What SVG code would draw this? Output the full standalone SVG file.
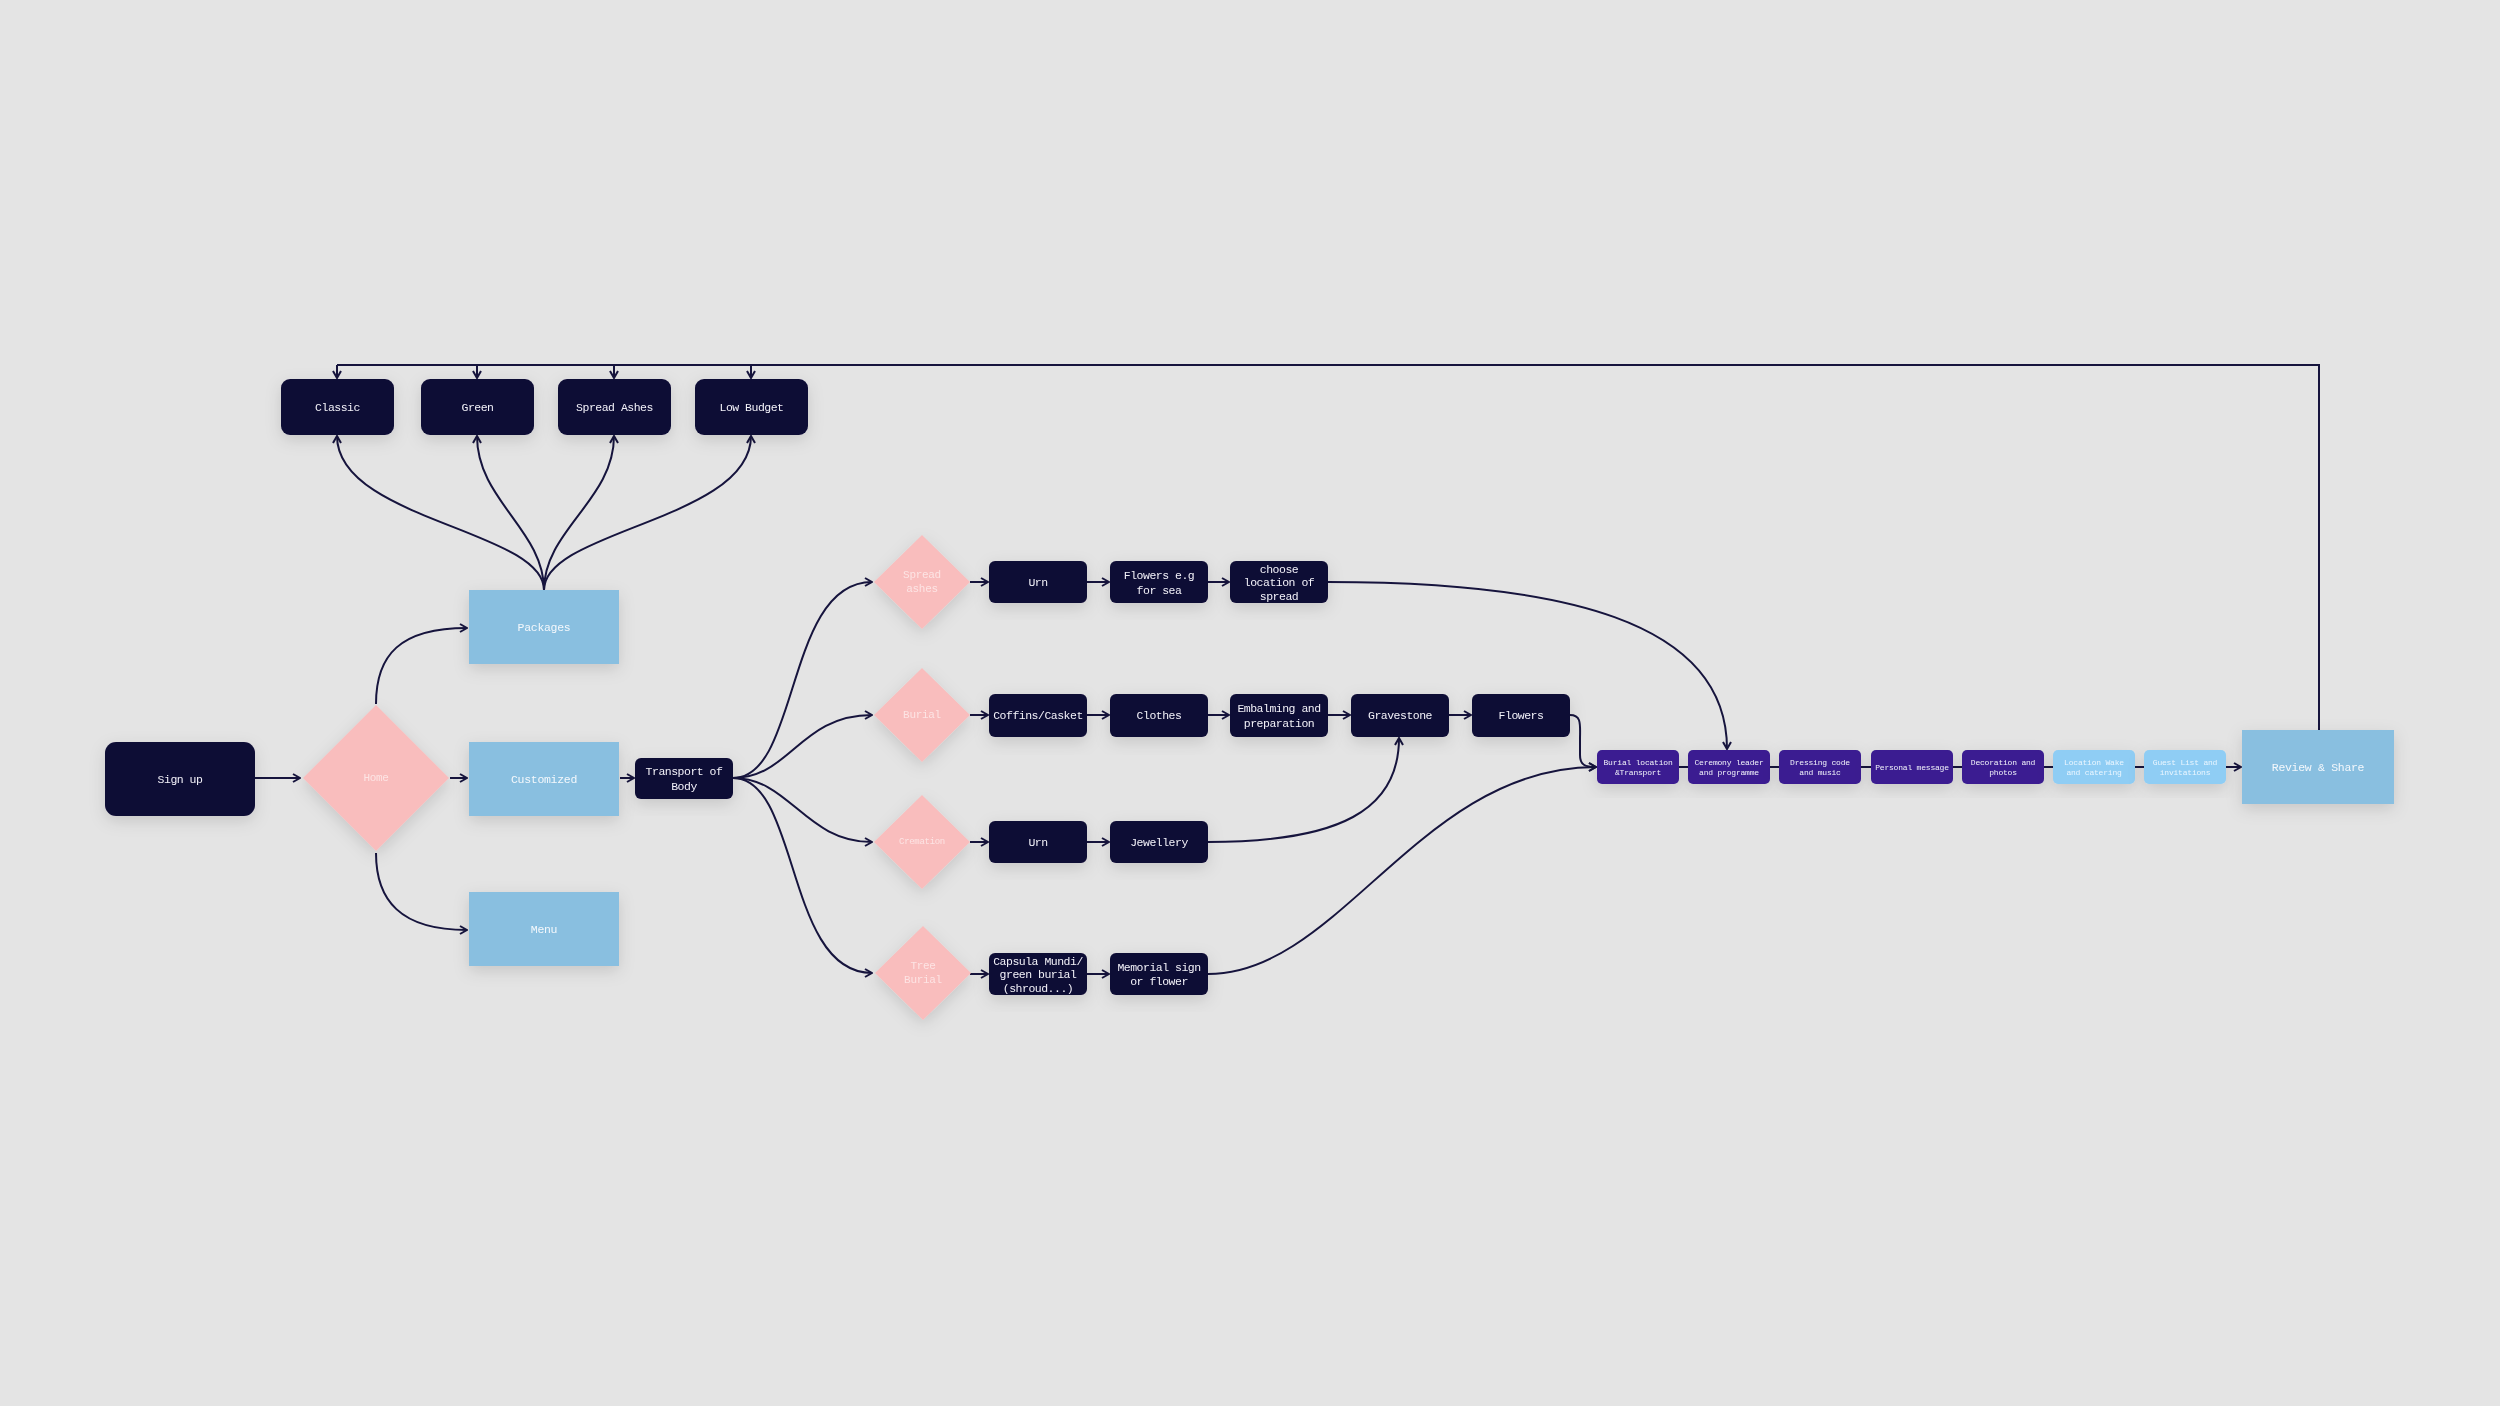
<svg xmlns="http://www.w3.org/2000/svg" width="2500" height="1406" viewBox="0 0 2500 1406">
<defs>
<style>
.bg{fill:#e4e4e4}
.dark{fill:#0c0a35}
.lb{fill:#89bfe0}
.pink{fill:#f9bdbd}
.ind{fill:#3a1f91}
.sky{fill:#8fcdf4}
.sh{filter:url(#shadow)}
text{font-family:"Liberation Mono","DejaVu Sans Mono",monospace;text-anchor:middle;dominant-baseline:central}
.t{fill:#f2f2f8;font-size:11.5px;letter-spacing:-0.5px}
.tl{fill:#f4f8fc;font-size:11.5px;letter-spacing:-0.3px}
.tp{fill:#fde4e4;font-size:11px;letter-spacing:-0.3px}
.ts{fill:#f2f0fa;font-size:8px;letter-spacing:-0.2px}
.tsk{fill:#eaf6ff;font-size:8px;letter-spacing:-0.2px}
.c{fill:none;stroke:#16143d;stroke-width:2}
.ca{fill:none;stroke:#16143d;stroke-width:2;marker-end:url(#arr)}
</style>
<filter id="shadow" x="-30%" y="-30%" width="160%" height="170%">
<feDropShadow dx="0" dy="5" stdDeviation="8" flood-color="#000" flood-opacity="0.13"/>
</filter>
<marker id="arr" viewBox="0 0 10 10" refX="9" refY="5" markerWidth="10" markerHeight="10" markerUnits="userSpaceOnUse" orient="auto">
<path d="M2,1 L9,5 L2,9" fill="none" stroke="#16143d" stroke-width="2"/>
</marker>
</defs>
<rect class="bg" x="0" y="0" width="2500" height="1406"/>

<g id="connectors">
<path class="c" d="M2319,730 L2319,365 L337,365"/>
<path class="ca" d="M337,365 L337,378"/>
<path class="ca" d="M477,365 L477,378"/>
<path class="ca" d="M614,365 L614,378"/>
<path class="ca" d="M751,365 L751,378"/>
<path class="ca" d="M544,590 C544,530 337,520 337,436"/>
<path class="ca" d="M544,590 C544,530 477,500 477,436"/>
<path class="ca" d="M544,590 C544,530 614,500 614,436"/>
<path class="ca" d="M544,590 C544,530 751,520 751,436"/>
<path class="ca" d="M255,778 L300,778"/>
<path class="ca" d="M376,704 C376,655 400,628 467,628"/>
<path class="ca" d="M450,778 L467,778"/>
<path class="ca" d="M376,853 C376,900 400,930 467,930"/>
<path class="ca" d="M620,778 L634,778"/>
<path class="ca" d="M733,778 C800,778 785,582 872,582"/>
<path class="ca" d="M733,778 C790,778 800,715 872,715"/>
<path class="ca" d="M733,778 C790,778 805,842 872,842"/>
<path class="ca" d="M733,778 C800,778 785,973 872,973"/>
<path class="ca" d="M970,582 L988,582"/>
<path class="ca" d="M1087,582 L1109,582"/>
<path class="ca" d="M1208,582 L1229,582"/>
<path class="ca" d="M1328,582 C1560,582 1727,620 1727,749"/>
<path class="ca" d="M970,715 L988,715"/>
<path class="ca" d="M1087,715 L1109,715"/>
<path class="ca" d="M1208,715 L1229,715"/>
<path class="ca" d="M1328,715 L1350,715"/>
<path class="ca" d="M1449,715 L1471,715"/>
<path class="ca" d="M1570,715 C1582,715 1580,725 1580,740 L1580,755 C1580,765 1585,767 1596,767"/>
<path class="ca" d="M970,842 L988,842"/>
<path class="ca" d="M1087,842 L1109,842"/>
<path class="ca" d="M1208,842 C1340,842 1399,810 1399,738"/>
<path class="ca" d="M970,974 L988,974"/>
<path class="ca" d="M1087,974 L1109,974"/>
<path class="ca" d="M1208,974 C1340,974 1420,767 1596,767"/>
<path class="c" d="M1679,767 L1688,767"/>
<path class="c" d="M1770,767 L1779,767"/>
<path class="c" d="M1861,767 L1871,767"/>
<path class="c" d="M1953,767 L1962,767"/>
<path class="c" d="M2044,767 L2053,767"/>
<path class="c" d="M2135,767 L2144,767"/>
<path class="ca" d="M2226,767 L2241,767"/>
</g>

<g id="classic" class="sh"><rect class="dark" x="281" y="379" width="113" height="56" rx="9"/><text class="t" x="337.5" y="407">Classic</text></g>
<g id="green" class="sh"><rect class="dark" x="421" y="379" width="113" height="56" rx="9"/><text class="t" x="477.5" y="407">Green</text></g>
<g id="spread-ashes-pkg" class="sh"><rect class="dark" x="558" y="379" width="113" height="56" rx="9"/><text class="t" x="614.5" y="407">Spread Ashes</text></g>
<g id="low-budget" class="sh"><rect class="dark" x="695" y="379" width="113" height="56" rx="9"/><text class="t" x="751.5" y="407">Low Budget</text></g>

<g id="signup" class="sh"><rect class="dark" x="105" y="742" width="150" height="74" rx="11"/><text class="t" x="180" y="779">Sign up</text></g>
<g id="home" class="sh"><polygon class="pink" points="376,705 449,778 376,851 303,778"/><text class="tp" x="376" y="778">Home</text></g>
<g id="packages" class="sh"><rect class="lb" x="469" y="590" width="150" height="74"/><text class="tl" x="544" y="627">Packages</text></g>
<g id="customized" class="sh"><rect class="lb" x="469" y="742" width="150" height="74"/><text class="tl" x="544" y="779">Customized</text></g>
<g id="menu" class="sh"><rect class="lb" x="469" y="892" width="150" height="74"/><text class="tl" x="544" y="929">Menu</text></g>
<g id="transport" class="sh"><rect class="dark" x="635" y="758" width="98" height="41" rx="6"/><text class="t" x="684" y="771">Transport of</text><text class="t" x="684" y="786">Body</text></g>

<g id="d-spread" class="sh"><polygon class="pink" points="922,535 970,582 922,629 874,582"/><text class="tp" x="922" y="575">Spread</text><text class="tp" x="922" y="589">ashes</text></g>
<g id="d-burial" class="sh"><polygon class="pink" points="922,668 970,715 922,762 874,715"/><text class="tp" x="922" y="715">Burial</text></g>
<g id="d-cremation" class="sh"><polygon class="pink" points="922,795 970,842 922,889 874,842"/><text class="tp" x="922" y="842" style="font-size:9px">Cremation</text></g>
<g id="d-tree" class="sh"><polygon class="pink" points="923,926 971,973 923,1020 875,973"/><text class="tp" x="923" y="966">Tree</text><text class="tp" x="923" y="980">Burial</text></g>

<g id="urn1" class="sh"><rect class="dark" x="989" y="561" width="98" height="42" rx="6"/><text class="t" x="1038" y="582">Urn</text></g>
<g id="flowers-sea" class="sh"><rect class="dark" x="1110" y="561" width="98" height="42" rx="6"/><text class="t" x="1159" y="575">Flowers e.g</text><text class="t" x="1159" y="590">for sea</text></g>
<g id="choose-location" class="sh"><rect class="dark" x="1230" y="561" width="98" height="42" rx="6"/><text class="t" x="1279" y="569">choose</text><text class="t" x="1279" y="582">location of</text><text class="t" x="1279" y="596">spread</text></g>

<g id="coffins" class="sh"><rect class="dark" x="989" y="694" width="98" height="43" rx="6"/><text class="t" x="1038" y="715">Coffins/Casket</text></g>
<g id="clothes" class="sh"><rect class="dark" x="1110" y="694" width="98" height="43" rx="6"/><text class="t" x="1159" y="715">Clothes</text></g>
<g id="embalming" class="sh"><rect class="dark" x="1230" y="694" width="98" height="43" rx="6"/><text class="t" x="1279" y="708">Embalming and</text><text class="t" x="1279" y="723">preparation</text></g>
<g id="gravestone" class="sh"><rect class="dark" x="1351" y="694" width="98" height="43" rx="6"/><text class="t" x="1400" y="715">Gravestone</text></g>
<g id="flowers" class="sh"><rect class="dark" x="1472" y="694" width="98" height="43" rx="6"/><text class="t" x="1521" y="715">Flowers</text></g>

<g id="urn2" class="sh"><rect class="dark" x="989" y="821" width="98" height="42" rx="6"/><text class="t" x="1038" y="842">Urn</text></g>
<g id="jewellery" class="sh"><rect class="dark" x="1110" y="821" width="98" height="42" rx="6"/><text class="t" x="1159" y="842">Jewellery</text></g>

<g id="capsula" class="sh"><rect class="dark" x="989" y="953" width="98" height="42" rx="6"/><text class="t" x="1038" y="961">Capsula Mundi/</text><text class="t" x="1038" y="974">green burial</text><text class="t" x="1038" y="988">(shroud...)</text></g>
<g id="memorial" class="sh"><rect class="dark" x="1110" y="953" width="98" height="42" rx="6"/><text class="t" x="1159" y="967">Memorial sign</text><text class="t" x="1159" y="981">or flower</text></g>

<g id="s-burial-loc" class="sh"><rect class="ind" x="1597" y="750" width="82" height="34" rx="5"/><text class="ts" x="1638" y="762">Burial location</text><text class="ts" x="1638" y="772">&amp;Transport</text></g>
<g id="s-ceremony" class="sh"><rect class="ind" x="1688" y="750" width="82" height="34" rx="5"/><text class="ts" x="1729" y="762">Ceremony leader</text><text class="ts" x="1729" y="772">and programme</text></g>
<g id="s-dressing" class="sh"><rect class="ind" x="1779" y="750" width="82" height="34" rx="5"/><text class="ts" x="1820" y="762">Dressing code</text><text class="ts" x="1820" y="772">and music</text></g>
<g id="s-personal" class="sh"><rect class="ind" x="1871" y="750" width="82" height="34" rx="5"/><text class="ts" x="1912" y="767">Personal message</text></g>
<g id="s-decoration" class="sh"><rect class="ind" x="1962" y="750" width="82" height="34" rx="5"/><text class="ts" x="2003" y="762">Decoration and</text><text class="ts" x="2003" y="772">photos</text></g>
<g id="s-wake" class="sh"><rect class="sky" x="2053" y="750" width="82" height="34" rx="5"/><text class="tsk" x="2094" y="762">Location Wake</text><text class="tsk" x="2094" y="772">and catering</text></g>
<g id="s-guest" class="sh"><rect class="sky" x="2144" y="750" width="82" height="34" rx="5"/><text class="tsk" x="2185" y="762">Guest List and</text><text class="tsk" x="2185" y="772">invitations</text></g>

<g id="review" class="sh"><rect class="lb" x="2242" y="730" width="152" height="74"/><text class="tl" x="2318" y="767">Review &amp; Share</text></g>
</svg>
